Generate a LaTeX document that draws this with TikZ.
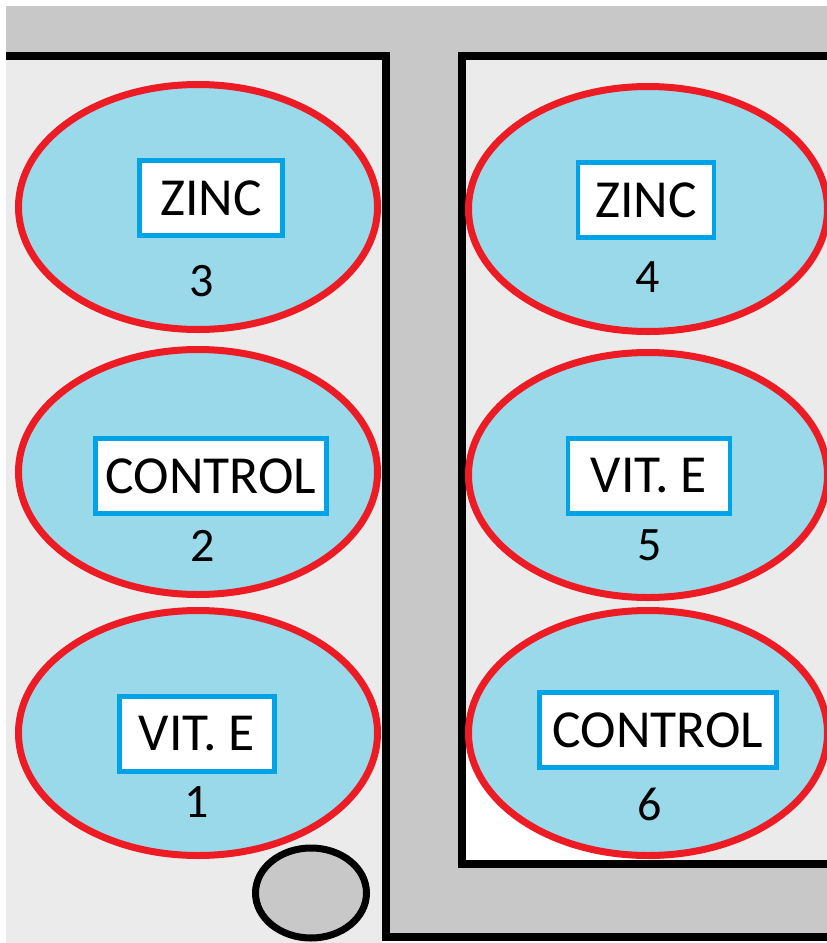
\documentclass[tikz,border=0pt]{standalone}
\usepackage{fontspec}
\setmainfont{Carlito}
\usetikzlibrary{shapes.geometric}

\definecolor{wallgray}{HTML}{C8C8C8}
\definecolor{floorgray}{HTML}{EBEBEB}
\definecolor{tankblue}{HTML}{99D9EA}
\definecolor{rimred}{HTML}{ED1C24}
\definecolor{tagblue}{HTML}{00A2E8}

\tikzset{
  wall/.style={draw=black, line width=8pt, line join=miter},
  tank/.style={ellipse, draw=rimred, fill=tankblue, line width=7pt,
               minimum width=359pt, minimum height=245pt, inner sep=0pt},
  tag/.style={rectangle, draw=tagblue, fill=white, line width=4.5pt,
              inner sep=0pt, minimum height=75pt,
              font=\fontsize{53.5}{64}\selectfont},
  num/.style={inner sep=0pt, font=\fontsize{48}{57}\selectfont},
  drain/.style={ellipse, draw=black, fill=wallgray, line width=7pt,
                minimum width=111pt, minimum height=90pt, inner sep=0pt}
}

\begin{document}
\begin{tikzpicture}[x=1pt, y=-1pt]
  \useasboundingbox (0,0) rectangle (827,943);
  \clip (0,0) rectangle (827,943);

  % outer walls and channel
  \fill[wallgray] (6,6) rectangle (827,941);

  % left pen (open on the left side)
  \fill[floorgray] (6,60) rectangle (382,943);
  \draw[wall] (6,56) -- (386,56) -- (386,937) -- (840,937);

  % right pen
  \fill[floorgray] (462,56) rectangle (840,864);
  \fill[white] (466,745) rectangle (650,860);
  \draw[wall] (840,56) -- (462,56) -- (462,864) -- (840,864);

  % drain
  \node[drain] (drain) at (311,893) {};

  % tanks, left column
  \node[tank] (t3) at (198,207) {};
  \node[tank] (t2) at (198,472) {};
  \node[tank] (t1) at (198,733) {};
  % tanks, right column
  \node[tank] (t4) at (648,209) {};
  \node[tank] (t5) at (648,475) {};
  \node[tank] (t6) at (648,733) {};

  % treatment tags
  \node[tag, minimum width=143pt] (l3) at (211,198) {ZINC};
  \node[tag, minimum width=231pt] (l2) at (211,476) {CONTROL};
  \node[tag, minimum width=155pt] (l1) at (197,734) {VIT. E};
  \node[tag, minimum width=136pt] (l4) at (646,200) {ZINC};
  \node[tag, minimum width=162pt] (l5) at (649,476) {VIT. E};
  \node[tag, minimum width=237pt] (l6) at (658,730) {CONTROL};

  % tank numbers
  \node[num] (n3) at (202,281) {3};
  \node[num] (n2) at (203,546) {2};
  \node[num] (n1) at (197,802) {1};
  \node[num] (n4) at (648,277) {4};
  \node[num] (n5) at (650,545) {5};
  \node[num] (n6) at (650,804) {6};
\end{tikzpicture}
\end{document}
